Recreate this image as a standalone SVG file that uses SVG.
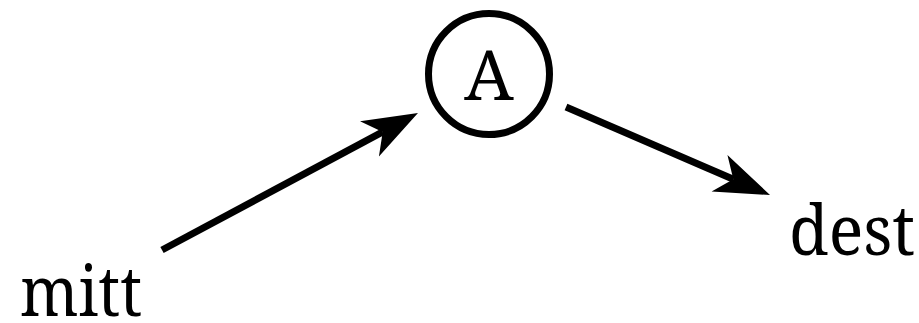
<svg xmlns="http://www.w3.org/2000/svg" width="919" height="323" viewBox="0 0 919 323">
<style>
  text { font-family: 'Noto Serif', 'DejaVu Serif', serif; font-size: 70px; fill: #000; }
  .edge { stroke: #000; stroke-width: 7; fill: none; }
  .node { stroke: #000; stroke-width: 7; fill: #fff; }
</style>
<defs>
  <marker id="arrow" markerUnits="userSpaceOnUse" viewBox="-56 -22 60 44" markerWidth="60" markerHeight="44" refX="-40" refY="0" orient="auto">
    <path d="M0,0 L-55,-20 L-40,0 L-55,20 Z" fill="#000"/>
  </marker>
</defs>
<rect width="919" height="323" fill="#fff"/>
<g id="connectors">
  <line class="edge" x1="162" y1="250" x2="382.7" y2="131.9" marker-end="url(#arrow)"/>
  <line class="edge" x1="566" y1="107" x2="733.3" y2="179.2" marker-end="url(#arrow)"/>
</g>
<g id="node-A">
  <circle class="node" cx="489" cy="74" r="60.5"/>
  <text x="489" y="100" text-anchor="middle">A</text>
</g>
<g id="node-mitt">
  <text x="20" y="316" textLength="122" lengthAdjust="spacingAndGlyphs">mitt</text>
</g>
<g id="node-dest">
  <text x="789" y="255" textLength="126" lengthAdjust="spacingAndGlyphs">dest</text>
</g>
</svg>
